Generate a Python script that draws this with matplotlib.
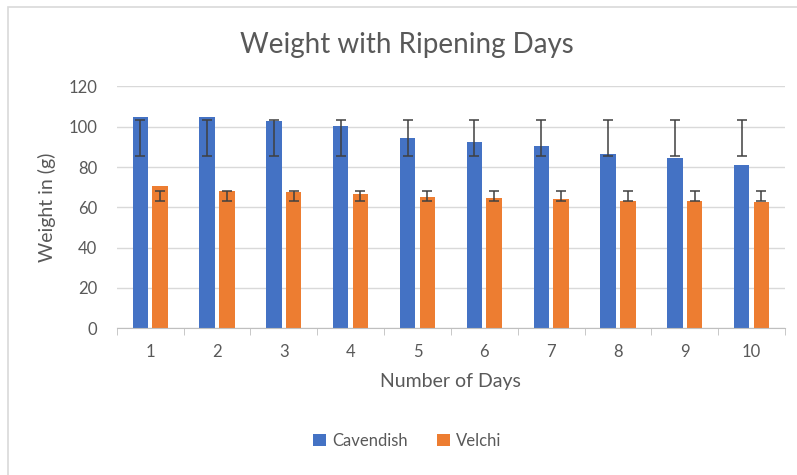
import numpy as np
import matplotlib.pyplot as plt
from matplotlib.patches import Rectangle

# Data
days = ["1", "2", "3", "4", "5", "6", "7", "8", "9", "10"]
cavendish = [104.7, 104.7, 102.7, 100.6, 94.2, 92.3, 90.3, 86.5, 84.5, 81.2]
velchi = [70.4, 68.3, 67.8, 66.5, 65.1, 64.6, 64.0, 63.1, 63.1, 62.6]
# error bars span a fixed range for each variety (low, high)
cav_err_range = (85.5, 103.3)
vel_err_range = (63.0, 68.3)

blue = "#4472C4"
orange = "#ED7D31"
txt = "#595959"

plt.rcParams["font.family"] = ["Lato", "DejaVu Sans"]

W, H = 797, 475
fig = plt.figure(figsize=(W / 100, H / 100), dpi=100)
ax = fig.add_axes([116.7 / W, 1 - 328.3 / H, (785 - 116.7) / W, (328.3 - 86.5) / H])

# chart frame
fig.patches.append(Rectangle((8 / W, -0.1), 1.1, 1 - 7 / H + 0.1, transform=fig.transFigure,
                             fill=False, edgecolor="#d9d9d9", linewidth=1.2))

x = np.arange(len(days))
w = 0.23
off = 0.148
ax.bar(x - off, cavendish, width=w, color=blue, label="Cavendish", zorder=2)
ax.bar(x + off, velchi, width=w, color=orange, label="Velchi", zorder=2)

cav_c = np.full(len(days), (cav_err_range[0] + cav_err_range[1]) / 2)
vel_c = np.full(len(days), (vel_err_range[0] + vel_err_range[1]) / 2)
ax.errorbar(x - off, cav_c, yerr=(cav_err_range[1] - cav_err_range[0]) / 2, fmt="none",
            ecolor="#404040", elinewidth=1.1, capsize=3.6, capthick=1.1, zorder=3)
ax.errorbar(x + off, vel_c, yerr=(vel_err_range[1] - vel_err_range[0]) / 2, fmt="none",
            ecolor="#404040", elinewidth=1.1, capsize=3.6, capthick=1.1, zorder=3)

ax.set_xlim(-0.5, len(days) - 0.5)
ax.set_ylim(0, 120)
ax.set_yticks(range(0, 121, 20))
ax.yaxis.grid(True, color="#d9d9d9", linewidth=1)
ax.set_axisbelow(True)
for s in ["top", "right", "left"]:
    ax.spines[s].set_visible(False)
ax.spines["bottom"].set_color("#bfbfbf")

ax.set_xticks(x)
ax.set_xticklabels(days)
ax.set_xticks(np.arange(-0.5, len(days), 1), minor=True)
ax.tick_params(axis="x", which="major", length=0, pad=11, labelsize=12, labelcolor=txt)
ax.tick_params(axis="x", which="minor", length=5, color="#bfbfbf")
ax.tick_params(axis="y", length=0, pad=14, labelsize=12, labelcolor=txt)

ax.set_xlabel("Number of Days", fontsize=14, color=txt, labelpad=10)
ax.set_ylabel("Weight in (g)", fontsize=14, color=txt, labelpad=9)

fig.text(0.511, 1 - 45 / H, "Weight with Ripening Days", ha="center", va="center",
         fontsize=20, color=txt)

fig.legend(loc="center", bbox_to_anchor=(0.511, 1 - 441 / H), ncol=2, frameon=False,
           handlelength=0.75, handleheight=0.75, handletextpad=0.35, columnspacing=1.8,
           fontsize=12, labelcolor=txt)

fig.savefig("out.png", dpi=100)
